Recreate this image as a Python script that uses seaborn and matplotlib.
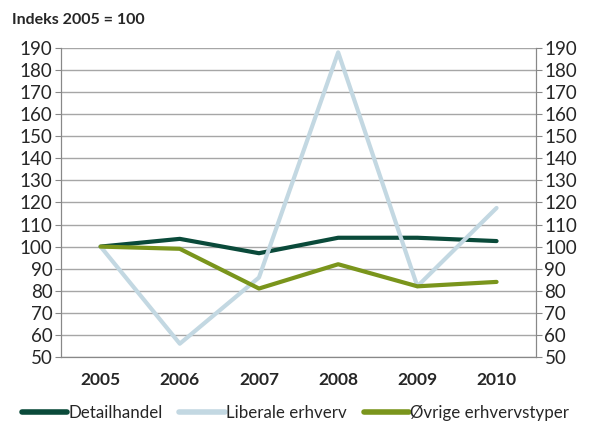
import pandas as pd
import matplotlib.pyplot as plt
import seaborn as sns

# data
years = ['2005', '2006', '2007', '2008', '2009', '2010']
detailhandel = [100, 103.5, 97, 104, 104, 102.5]
liberale = [100, 56, 86, 188, 82, 117.5]
ovrige = [100, 99, 81, 92, 82, 84]
series_names = ['Detailhandel', 'Liberale erhverv', 'Øvrige erhvervstyper']

df = pd.DataFrame({
    'pos': list(range(len(years))) * 3,
    'value': detailhandel + liberale + ovrige,
    'serie': [s for s in series_names for _ in years],
})

sns.set_style('white')
plt.rcParams['font.family'] = ['Lato', 'DejaVu Sans']

fig = plt.figure(figsize=(5.91, 4.28), dpi=100)
ax = fig.add_axes([0.1032, 0.166, 0.804, 0.722])

palette = {'Detailhandel': '#0a4a3a', 'Liberale erhverv': '#c3d8e2',
           'Øvrige erhvervstyper': '#7a951c'}
sns.lineplot(data=df, x='pos', y='value', hue='serie', hue_order=series_names,
             palette=palette, linewidth=3, ax=ax, sort=False)

ax.set_xlim(-0.5, 5.5)
ax.set_ylim(50, 190)
ax.set_yticks(range(50, 191, 10))
ax.set_xticks(range(len(years)))
ax.set_xticklabels(years, fontweight='bold', fontsize=12.5)
ax.set_xticks([i + 0.5 for i in range(-1, 6)], minor=True)
ax.tick_params(axis='x', which='major', length=0, pad=11)
ax.tick_params(axis='x', which='minor', length=5, color='#888888', direction='out')
ax.tick_params(axis='y', labelsize=13.5, length=4, color='#888888', direction='out', pad=2)
ax.yaxis.grid(True, color='#a6a6a6', linewidth=1)
ax.set_axisbelow(True)
ax.set_xlabel('')
ax.set_ylabel('')
for side in ['left', 'right', 'bottom']:
    ax.spines[side].set_color('#888888')
ax.spines['top'].set_visible(False)

ax2 = ax.twinx()
ax2.set_ylim(ax.get_ylim())
ax2.set_yticks(range(50, 191, 10))
ax2.tick_params(axis='y', labelsize=13.5, length=4, color='#888888', direction='out', pad=2)
for side in ['left', 'right', 'bottom']:
    ax2.spines[side].set_color('#888888')
ax2.spines['top'].set_visible(False)

fig.text(0.02, 0.945, 'Indeks 2005 = 100', fontsize=11.5, fontweight='bold')

handles, labels = ax.get_legend_handles_labels()
for h in handles:
    h.set_linewidth(4)
ax.legend_.remove()
fig.legend(handles, labels, loc='lower center', bbox_to_anchor=(0.5, -0.02), ncol=3,
           frameon=False, fontsize=12.2, handlelength=2.7, handletextpad=0.05,
           columnspacing=1.0)

fig.savefig('out.png', dpi=100)
